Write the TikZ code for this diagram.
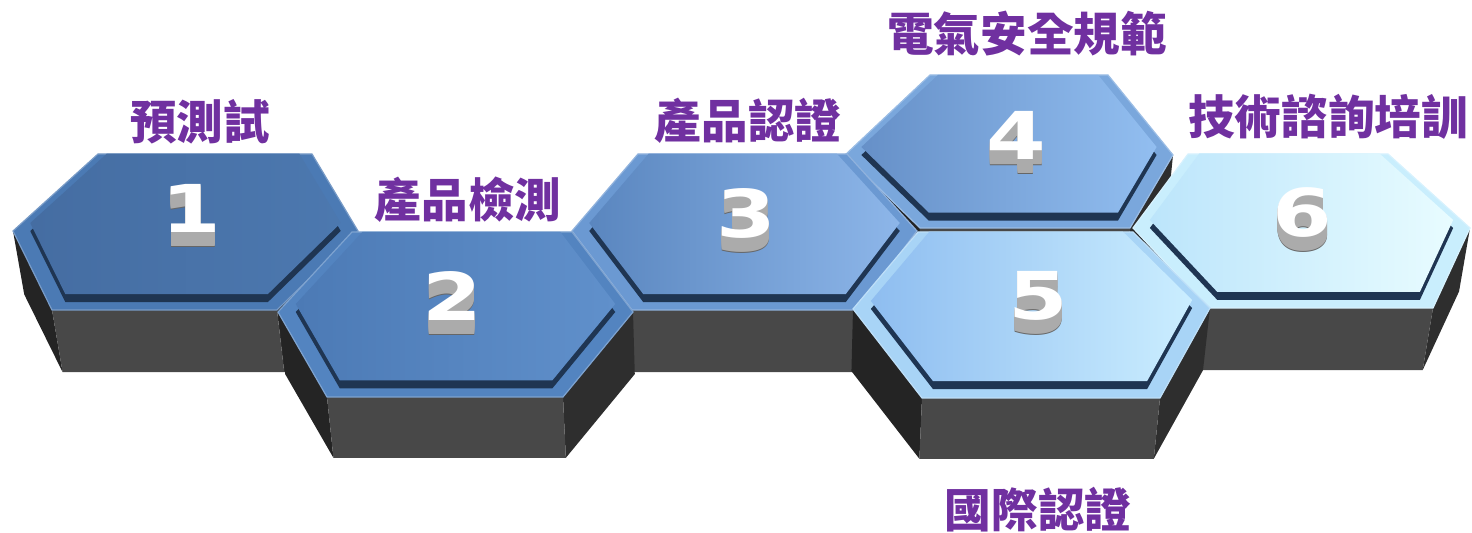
\documentclass[tikz,border=0pt]{standalone}
\usepackage{fontspec}
\newfontfamily\cjk{Noto Sans CJK TC}
\newfontfamily\numfont{DejaVu Sans}
\usetikzlibrary{calc}

\definecolor{labelpurple}{HTML}{7030A0}
\definecolor{sidefrontc}{HTML}{484848}
\definecolor{sideleftc}{HTML}{242424}
\definecolor{siderightc}{HTML}{2E2E2E}
\definecolor{bandc}{HTML}{1F3552}
\definecolor{numgray}{HTML}{ABABAB}
\definecolor{h1a}{HTML}{456DA2}\definecolor{h1b}{HTML}{4C78AF}\definecolor{h1rim}{HTML}{4B7AB4}
\definecolor{h2a}{HTML}{4C7AB5}\definecolor{h2b}{HTML}{6090CB}\definecolor{h2rim}{HTML}{5384C0}
\definecolor{h3a}{HTML}{5A86BF}\definecolor{h3b}{HTML}{8DB6E9}\definecolor{h3rim}{HTML}{6B99D2}
\definecolor{h4a}{HTML}{6690C8}\definecolor{h4b}{HTML}{92BEF0}\definecolor{h4rim}{HTML}{7AA7DC}
\definecolor{h5a}{HTML}{8EBDF0}\definecolor{h5b}{HTML}{CBEEFF}\definecolor{h5rim}{HTML}{A8D4F6}
\definecolor{h6a}{HTML}{BCE5FB}\definecolor{h6b}{HTML}{E8FCFF}\definecolor{h6rim}{HTML}{C9EEFD}

% one hexagonal block: #1 name, #2/#3 top colours, #4 rim colour
\newcommand{\hexprism}[4]{%
  \coordinate (#1-c) at ($(#1-l)!0.5!(#1-r)$);
  \foreach \v in {l,tl,tr,r,br,bl}{
    \coordinate (#1-d\v) at ($(#1-\v)!0.0152!(vp)$);
    \coordinate (#1-p\v) at ($(#1-c)!0.9!(#1-\v)$);
    \coordinate (#1-q\v) at ($(#1-p\v)+(0,-8)$);
  }
  % side faces
  \fill[sideleft](#1-l)--(#1-bl)--(#1-dbl)--(#1-dl)--cycle;
  \fill[sideright](#1-br)--(#1-r)--(#1-dr)--(#1-dbr)--cycle;
  \fill[sidefront](#1-bl)--(#1-br)--(#1-dbr)--(#1-dbl)--cycle;
  % rim
  \filldraw[fill=#4,draw=#4!75!white,line width=0.6pt](#1-l)--(#1-tl)--(#1-tr)--(#1-r)--(#1-br)--(#1-bl)--cycle;
  % raised top
  \fill[band](#1-pl)--(#1-ptl)--(#1-ptr)--(#1-pr)--(#1-pbr)--(#1-pbl)--cycle;
  \shade[left color=#2,right color=#3](#1-ql)--(#1-qtl)--(#1-qtr)--(#1-qr)--(#1-qbr)--(#1-qbl)--cycle;
}

% white number with grey depth
\newcommand{\hexnum}[3]{%
  \node[numtop,text=black!60] (#1-15) at ($(#2)+(0,15)$) {#3};
  \foreach \d in {14,...,1}{\node[numtop,text=numgray] (#1-\d) at ($(#2)+(0,\d)$) {#3};}
  \node[numtop] (#1) at (#2) {#3};
}

\begin{document}
\begin{tikzpicture}[x=0.5pt,y=-0.5pt,
    sideleft/.style={fill=sideleftc},
    sideright/.style={fill=siderightc},
    sidefront/.style={fill=sidefrontc},
    band/.style={fill=bandc},
    numtop/.style={inner sep=0pt,text=white,xscale=1.3,font=\numfont\bfseries\fontsize{33}{33}\selectfont},
    lbl/.style={inner sep=0pt,text=labelpurple,font=\cjk\bfseries\fontsize{23.3}{24}\selectfont}]
  \useasboundingbox (0,0) rectangle (1472,533);
  \coordinate (vp) at (750,4400);
  % Block corners
  \coordinate (h1-l) at (13,231);   \coordinate (h1-tl) at (98,154);  \coordinate (h1-tr) at (312,154);
  \coordinate (h1-r) at (358,231);  \coordinate (h1-br) at (277,310); \coordinate (h1-bl) at (52,310);
  \coordinate (h2-l) at (278,312);  \coordinate (h2-tl) at (352,232); \coordinate (h2-tr) at (572,232);
  \coordinate (h2-r) at (633,312);  \coordinate (h2-br) at (563,397); \coordinate (h2-bl) at (327,397);
  \coordinate (h3-l) at (572,231);  \coordinate (h3-tl) at (638,154); \coordinate (h3-tr) at (847,154);
  \coordinate (h3-r) at (917,231);  \coordinate (h3-br) at (857,310); \coordinate (h3-bl) at (632,310);
  \coordinate (h4-l) at (845,155);  \coordinate (h4-tl) at (930,75);  \coordinate (h4-tr) at (1108,75);
  \coordinate (h4-r) at (1173,155); \coordinate (h4-br) at (1130,228); \coordinate (h4-bl) at (920,228);
  \coordinate (h5-l) at (853,309);  \coordinate (h5-tl) at (918,232); \coordinate (h5-tr) at (1133,232);
  \coordinate (h5-r) at (1210,308); \coordinate (h5-br) at (1160,398); \coordinate (h5-bl) at (922,398);
  \coordinate (h6-l) at (1133,228); \coordinate (h6-tl) at (1188,154); \coordinate (h6-tr) at (1388,154);
  \coordinate (h6-r) at (1470,228); \coordinate (h6-br) at (1433,308); \coordinate (h6-bl) at (1208,308);
  % Blocks, back to front
  \hexprism{h4}{h4a}{h4b}{h4rim}
  \hexprism{h1}{h1a}{h1b}{h1rim}
  \hexprism{h3}{h3a}{h3b}{h3rim}
  \hexprism{h6}{h6a}{h6b}{h6rim}
  \hexprism{h2}{h2a}{h2b}{h2rim}
  \hexprism{h5}{h5a}{h5b}{h5rim}
  % Numbers
  \hexnum{n1}{191,208}{1}
  \hexnum{n2}{452,296}{2}
  \hexnum{n3}{746,213}{3}
  \hexnum{n4}{1016,135}{4}
  \hexnum{n5}{1038,296}{5}
  \hexnum{n6}{1302,213}{6}
  % Labels
  \node[lbl] (l1) at (200,122) {預測試};
  \node[lbl] (l2) at (468,200) {產品檢測};
  \node[lbl] (l3) at (748,121) {產品認證};
  \node[lbl] (l4) at (1027,34) {電氣安全規範};
  \node[lbl] (l5) at (1038,510) {國際認證};
  \node[lbl] (l6) at (1328,117) {技術諮詢培訓};
\end{tikzpicture}
\end{document}
